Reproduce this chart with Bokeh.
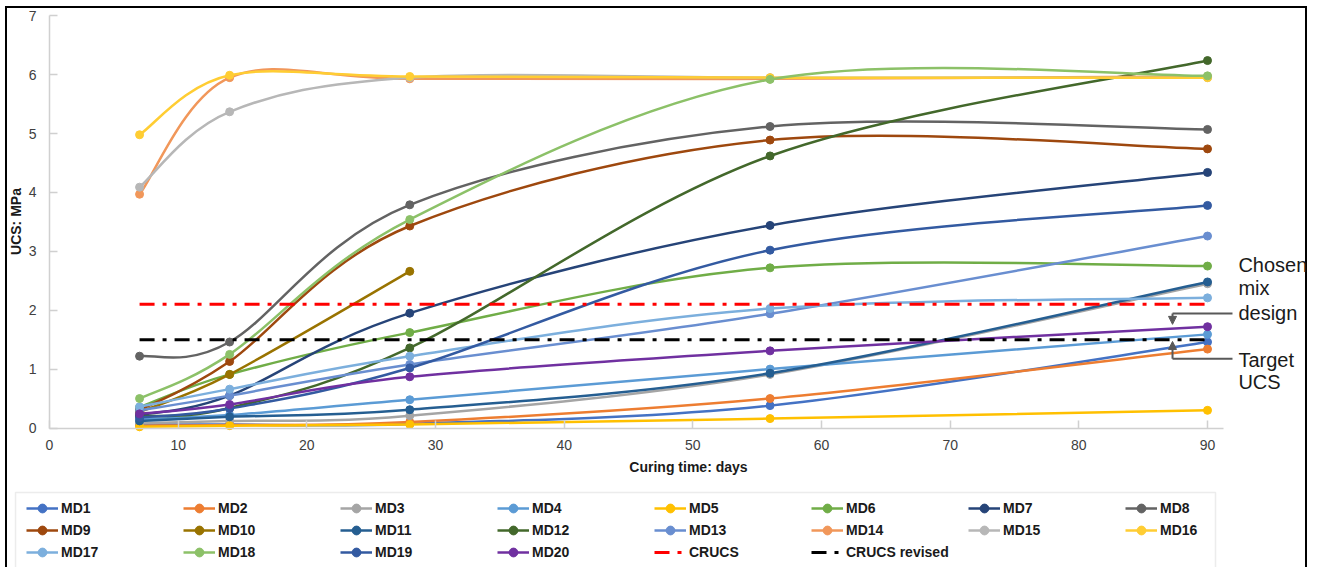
import math
from bokeh.plotting import figure
from bokeh.models import (Range1d, FixedTicker, Legend, LegendItem, Label, Arrow,
                          NormalHead, ColumnDataSource, BoxAnnotation)
from bokeh.embed import file_html
from bokeh.resources import INLINE

# ---------------- data ----------------
days = [7, 14, 28, 56, 90]
names = ["MD1", "MD2", "MD3", "MD4", "MD5", "MD6", "MD7", "MD8", "MD9", "MD10",
         "MD11", "MD12", "MD13", "MD14", "MD15", "MD16", "MD17", "MD18", "MD19", "MD20"]
md1 = [0.06, 0.06, 0.07, 0.38, 1.46]
md2 = [0.04, 0.05, 0.10, 0.50, 1.34]
md3 = [0.08, 0.12, 0.21, 0.91, 2.45]
md4 = [0.15, 0.22, 0.48, 1.00, 1.59]
md5 = [0.02, 0.04, 0.06, 0.16, 0.30]
md6 = [0.35, 0.91, 1.62, 2.72, 2.75]
md7 = [0.22, 0.55, 1.95, 3.44, 4.34]
md8 = [1.22, 1.46, 3.79, 5.12, 5.07]
md9 = [0.30, 1.13, 3.43, 4.89, 4.74]
md10 = [0.27, 0.91, 2.66]
md11 = [0.12, 0.19, 0.31, 0.93, 2.48]
md12 = [0.20, 0.34, 1.36, 4.62, 6.24]
md13 = [0.30, 0.55, 1.08, 1.94, 3.26]
md14 = [3.97, 5.95, 5.93, 5.93, 5.97]
md15 = [4.09, 5.37, 5.95, 5.95, 5.95]
md16 = [4.98, 5.99, 5.97, 5.95, 5.95]
md17 = [0.36, 0.66, 1.22, 2.03, 2.21]
md18 = [0.50, 1.25, 3.54, 5.92, 5.98]
md19 = [0.18, 0.33, 1.02, 3.02, 3.78]
md20 = [0.24, 0.40, 0.87, 1.31, 1.72]
values = [md1, md2, md3, md4, md5, md6, md7, md8, md9, md10,
          md11, md12, md13, md14, md15, md16, md17, md18, md19, md20]
crucs = 2.1
crucs_revised = 1.5
x_ticks = [0, 10, 20, 30, 40, 50, 60, 70, 80, 90]
y_ticks = [0, 1, 2, 3, 4, 5, 6, 7]

colors = ["#4472C4", "#ED7D31", "#A5A5A5", "#5B9BD5", "#FFC000", "#70AD47",
          "#264478", "#636363", "#9E480E", "#997300", "#255E91", "#43682B",
          "#698ED0", "#F1975A", "#B7B7B7", "#FFCD33", "#7CAFDD", "#8CC168",
          "#335AA1", "#7030A0"]

FONT = "Liberation Sans"


def smooth_segments(xs, ys):
    """Bezier segments (Excel-like smoothing) through the data points."""
    n = len(xs)
    d = {k: [] for k in ("x0", "y0", "x1", "y1", "cx0", "cy0", "cx1", "cy1")}
    for i in range(n - 1):
        im, ip, ipp = max(i - 1, 0), i + 1, min(i + 2, n - 1)
        d["x0"].append(xs[i]); d["y0"].append(ys[i])
        d["x1"].append(xs[ip]); d["y1"].append(ys[ip])
        d["cx0"].append(xs[i] + (xs[ip] - xs[im]) / 6.0)
        d["cy0"].append(ys[i] + (ys[ip] - ys[im]) / 6.0)
        d["cx1"].append(xs[ip] - (xs[ipp] - xs[i]) / 6.0)
        d["cy1"].append(ys[ip] - (ys[ipp] - ys[i]) / 6.0)
    return d


# frame covers the whole canvas; axes are pinned at x=0 / y=0
p = figure(width=1302, height=561, output_backend="svg", toolbar_location=None,
           x_range=Range1d(-3.4196, 97.77), y_range=Range1d(-2.369, 7.158),
           min_border_left=0, min_border_right=0, min_border_top=0,
           min_border_bottom=0)
p.margin = (6, 0, 0, 5)
p.border_fill_color = None
p.background_fill_color = None
p.outline_line_color = None
p.xgrid.visible = False
p.ygrid.visible = False
p.styles = {"box-shadow": "inset 2px 2px 0 0 #000000, inset -2px 0 0 0 #000000"}

items = []
for name, vals, col in zip(names, values, colors):
    xs = days[:len(vals)]
    src = ColumnDataSource(smooth_segments(xs, vals))
    rl = p.bezier(x0="x0", y0="y0", x1="x1", y1="y1", cx0="cx0", cy0="cy0",
                  cx1="cx1", cy1="cy1", source=src, line_color=col, line_width=2.5)
    rs = p.scatter(xs, vals, marker="circle", size=8, fill_color=col, line_color=col)
    items.append(LegendItem(label=name, renderers=[rl, rs]))

r1 = p.line([days[0], days[-1]], [crucs, crucs], line_color="#FF0000", line_width=3,
            line_dash="15 8 4 8")
r2 = p.line([days[0], days[-1]], [crucs_revised, crucs_revised], line_color="#000000",
            line_width=3, line_dash="15 8 4 8")
items.append(LegendItem(label="CRUCS", renderers=[r1]))
items.append(LegendItem(label="CRUCS revised", renderers=[r2]))

# axes
for ax in (p.xaxis[0], p.yaxis[0]):
    ax.fixed_location = 0
    ax.axis_line_color = "#D0D0D0"
    ax.axis_line_width = 1.5
    ax.major_tick_line_color = "#D0D0D0"
    ax.major_tick_line_width = 1.5
    ax.major_tick_in = 8
    ax.major_tick_out = 0
    ax.minor_tick_line_color = None
    ax.major_label_text_font = FONT
    ax.major_label_text_font_size = "14px"
    ax.major_label_text_color = "#404040"

p.xaxis.ticker = FixedTicker(ticks=x_ticks)
p.yaxis.ticker = FixedTicker(ticks=y_ticks)
p.xaxis.bounds = (0, 91.24)
p.yaxis.bounds = (0, 7)
p.xaxis.major_label_standoff = 12
p.yaxis.major_label_standoff = 13

# axis titles
p.add_layout(Label(x=49.66, y=-0.654, text="Curing time: days", text_font=FONT,
                   text_font_size="14px", text_font_style="bold", text_color="#1a1a1a",
                   text_align="center", text_baseline="middle"))
p.add_layout(Label(x=-2.565, y=3.507, text="UCS: MPa", text_font=FONT, angle=math.pi / 2,
                   text_font_size="14px", text_font_style="bold", text_color="#1a1a1a",
                   text_align="center", text_baseline="middle"))

# legend frame (drawn separately so it can be narrower than the item grid)
p.add_layout(BoxAnnotation(left=-2.642, right=90.62, top=-1.094, bottom=-2.6,
                           fill_color=None, fill_alpha=0, line_color="#BFBFBF",
                           line_width=1.5))

legend = Legend(items=items, location=(21, 4), orientation="horizontal", ncols=8,
                label_text_font=FONT, label_text_font_size="14px",
                label_text_font_style="bold", label_text_color="#1a1a1a",
                glyph_width=32, glyph_height=22, label_height=22, label_width=122,
                label_standoff=3, spacing=0, padding=0, margin=0,
                border_line_color=None, background_fill_alpha=0)
p.add_layout(legend, "center")

# annotations
ann_color = "#595959"
p.add_layout(Arrow(end=None, x_start=91.94, y_start=1.946, x_end=87.28, y_end=1.946,
                   line_color=ann_color, line_width=2))
p.add_layout(Arrow(end=NormalHead(size=8, fill_color=ann_color, line_color=ann_color),
                   x_start=87.28, y_start=1.946, x_end=87.28, y_end=1.76,
                   line_color=ann_color, line_width=2))
p.add_layout(Arrow(end=None, x_start=91.94, y_start=1.177, x_end=87.28, y_end=1.177,
                   line_color=ann_color, line_width=2))
p.add_layout(Arrow(end=NormalHead(size=8, fill_color=ann_color, line_color=ann_color),
                   x_start=87.28, y_start=1.177, x_end=87.28, y_end=1.47,
                   line_color=ann_color, line_width=2))

for txt, yy in [("Chosen", 2.76), ("mix", 2.37), ("design", 1.96), ("Target", 1.15), ("UCS", 0.774)]:
    p.add_layout(Label(x=92.4, y=yy, text=txt, text_font=FONT, text_font_size="20px",
                       text_baseline="middle", text_color="#1a1a1a"))

open("out.html", "w").write(file_html(p, INLINE))
